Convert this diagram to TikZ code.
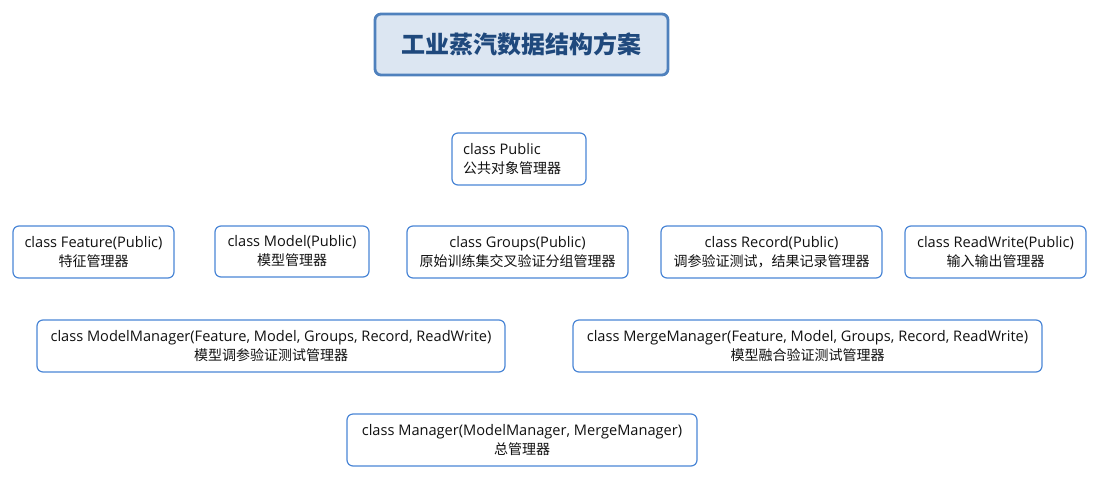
\documentclass[tikz,border=0pt]{standalone}
\usepackage{fontspec}
\setmainfont{Open Sans}
\newfontfamily\cjk{Noto Sans CJK SC}
\definecolor{bordblue}{HTML}{4A86D6}
\definecolor{titlefill}{HTML}{DCE6F2}
\definecolor{titleborder}{HTML}{4F81BD}
\definecolor{titletext}{HTML}{1F497D}
\definecolor{txt}{HTML}{111111}
\tikzset{
  cls/.style={draw=bordblue, line width=1.2pt, rounded corners=6pt, fill=white,
    align=center, inner sep=0pt, text=txt, font=\fontsize{14.6}{19}\selectfont},
  titlebox/.style={draw=titleborder, line width=2.8pt, rounded corners=6pt, fill=titlefill,
    inner sep=0pt, text=titletext, font=\cjk\fontsize{24}{28}\selectfont\bfseries},
}
\newcommand{\clsbox}[6]{% name, x1, y1, x2, y2, text
  \node[cls, minimum width={#4-#2}, minimum height={#5-#3}] (#1) at ({(#2+#4)/2},{(#3+#5)/2}) {#6};}
\newcommand{\zh}[1]{{\cjk\fontsize{14}{19}\selectfont #1}}
\begin{document}
\begin{tikzpicture}[x=1pt,y=-1pt]
\useasboundingbox (0,0) rectangle (1100,480);
\node[titlebox, minimum width=293, minimum height=61] (title) at (521.5,44.5) {工业蒸汽数据结构方案};
\node[cls, minimum width=134, minimum height=52] (public) at (519,159) {};
\node[anchor=west, align=left, inner sep=0pt, text=txt, font=\fontsize{14.6}{19}\selectfont] (publictext) at (463,159) {class Public\\\zh{公共对象管理器}};
\clsbox{feature}{13}{226}{174}{278}{class Feature(Public)\\\zh{特征管理器}}
\clsbox{model}{215}{226}{369}{277}{class Model(Public)\\\zh{模型管理器}}
\clsbox{groups}{407}{226}{628}{278}{class Groups(Public)\\\zh{原始训练集交叉验证分组管理器}}
\clsbox{record}{661}{226}{882}{278}{class Record(Public)\\\zh{调参验证测试，结果记录管理器}}
\clsbox{readwrite}{905}{226}{1086}{278}{class ReadWrite(Public)\\\zh{输入输出管理器}}
\clsbox{modelmanager}{37}{320}{505}{372}{class ModelManager(Feature, Model, Groups, Record, ReadWrite)\\\zh{模型调参验证测试管理器}}
\clsbox{mergemanager}{573}{320}{1042}{372}{class MergeManager(Feature, Model, Groups, Record, ReadWrite)\\\zh{模型融合验证测试管理器}}
\clsbox{manager}{347}{414}{697}{466}{class Manager(ModelManager, MergeManager)\\\zh{总管理器}}
\end{tikzpicture}
\end{document}
